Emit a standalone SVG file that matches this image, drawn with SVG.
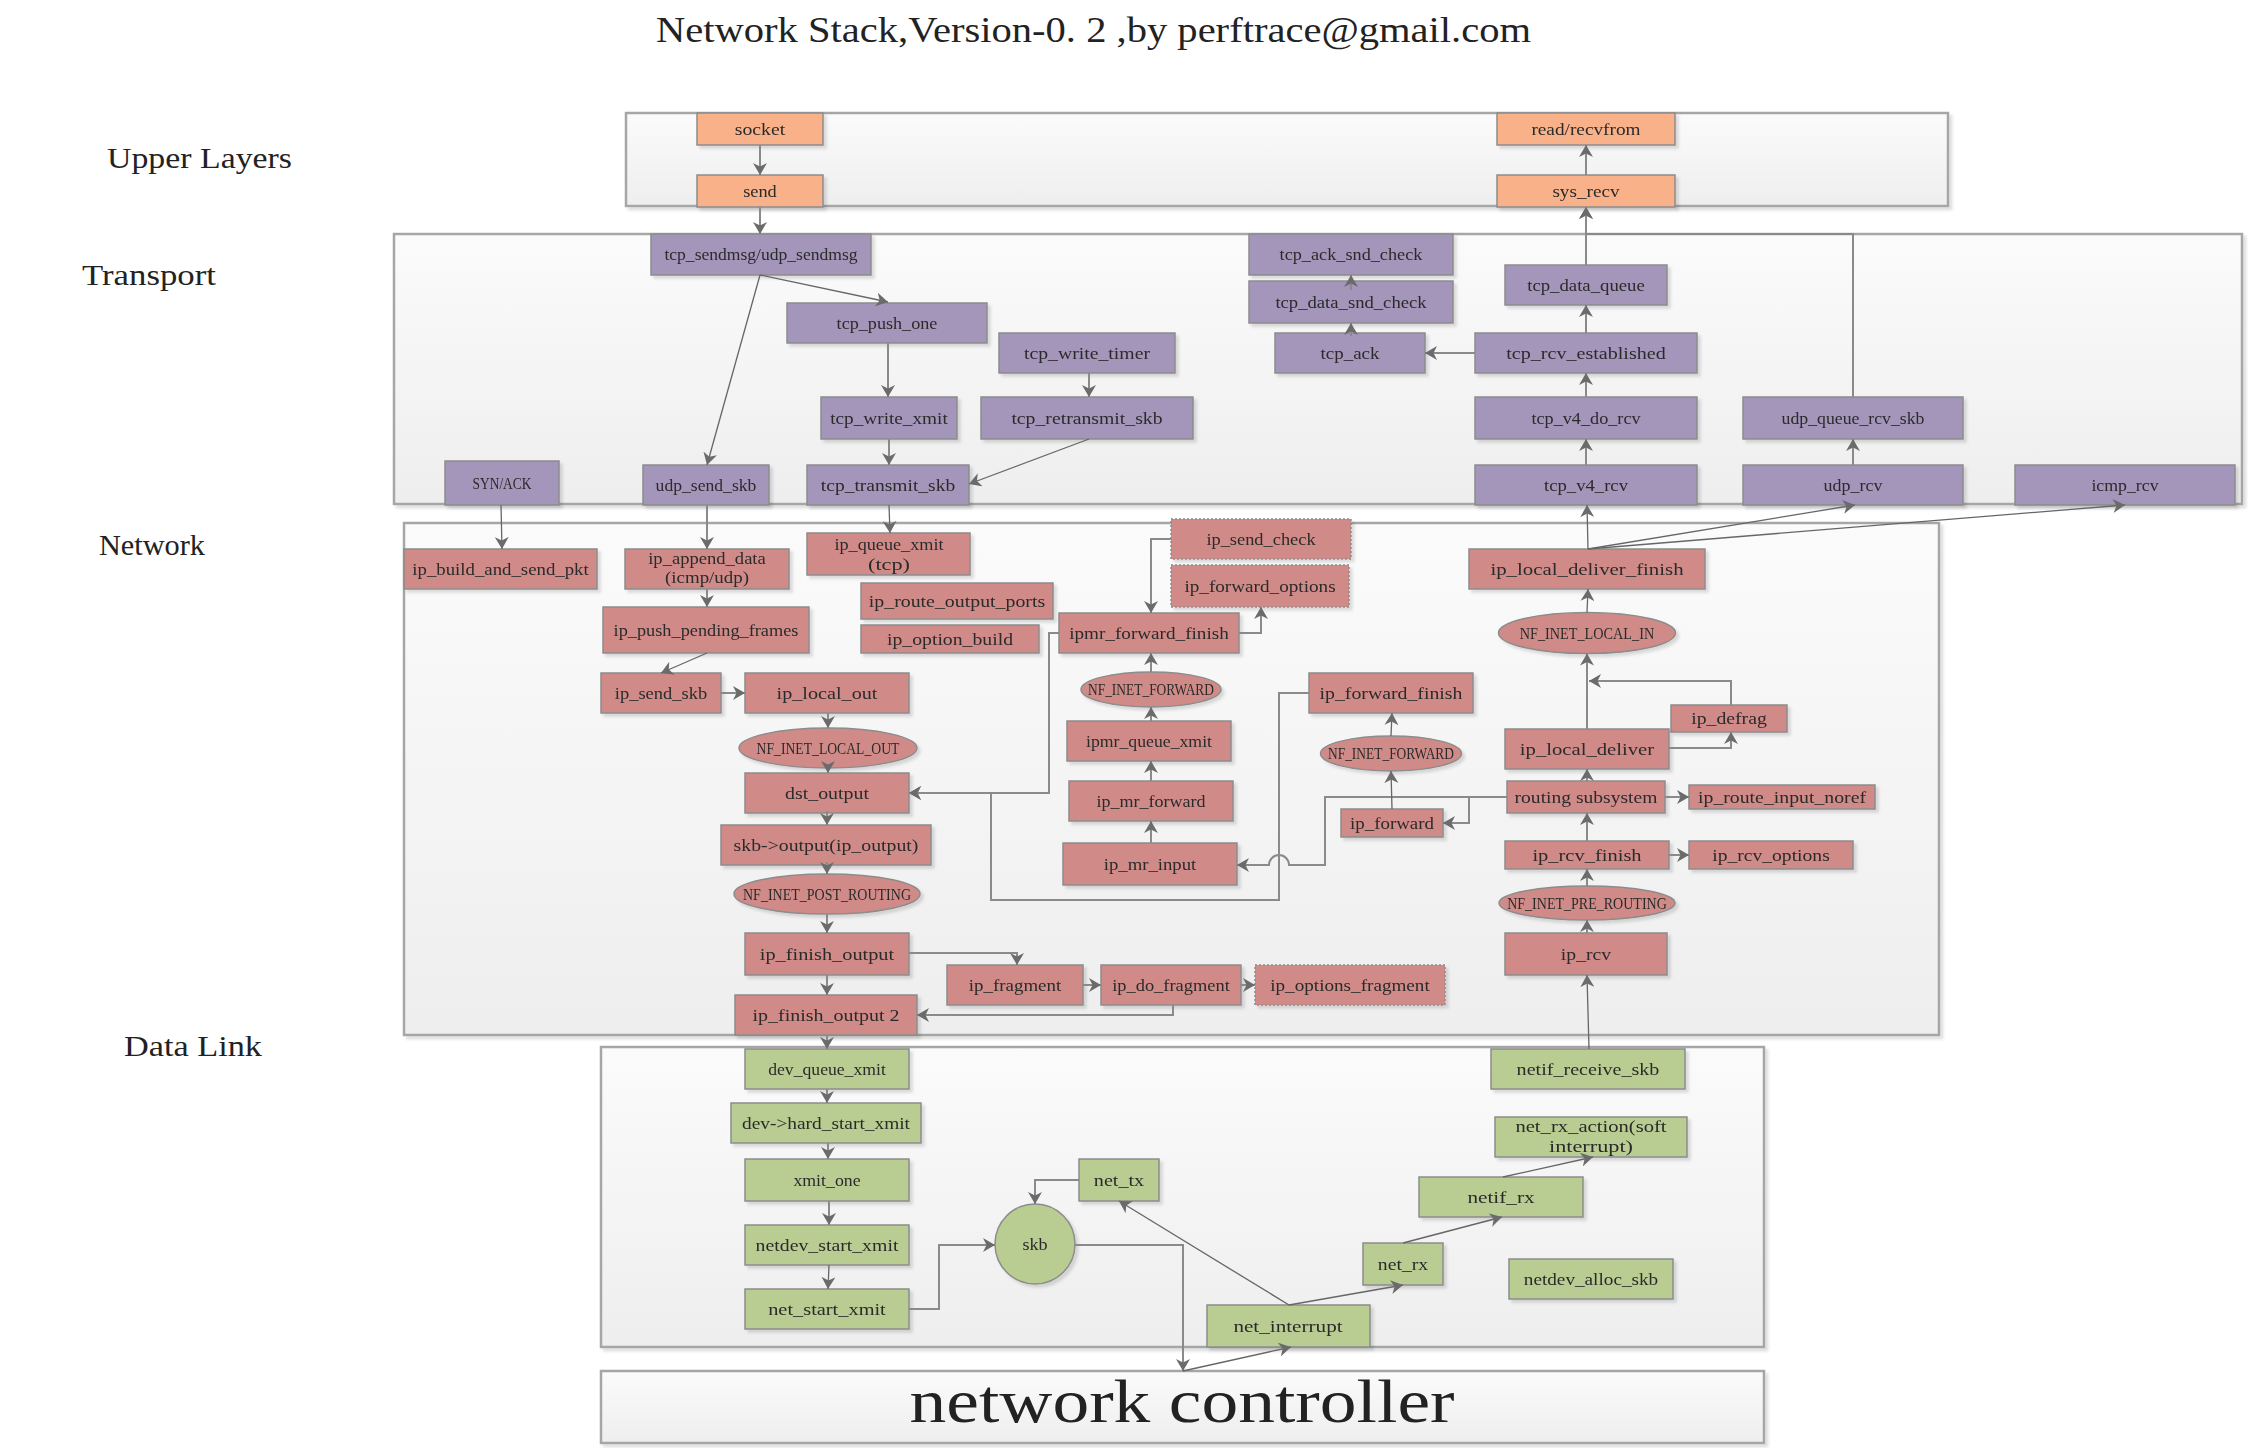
<svg xmlns="http://www.w3.org/2000/svg" width="2248" height="1448" viewBox="0 0 2248 1448">
<style>
.t{font-family:"Liberation Serif","DejaVu Serif",serif;font-size:17px;fill:#2b2b2b;text-anchor:middle}
.lay{font-family:"Liberation Serif","DejaVu Serif",serif;font-size:30px;fill:#222}
.cont{fill:url(#cg);stroke:#a6a6a6;stroke-width:2.5;filter:url(#sh)}
.o{fill:#f8b189;stroke:#8c8c8c;stroke-width:1.5}
.p{fill:#a495ba;stroke:#8c8c8c;stroke-width:1.5}
.r{fill:#d08b88;stroke:#8c8c8c;stroke-width:1.5}
.d{fill:#d08b88;stroke:#8c8c8c;stroke-width:1.5;stroke-dasharray:2 2}
.g{fill:#b9cd92;stroke:#8c8c8c;stroke-width:1.5}
.n{filter:url(#sh)}
#connectors path{fill:none;stroke:#8a8a8a;stroke-width:2;marker-end:url(#ah)}
#connectors path.dg{stroke:#666;stroke-width:1.3}
</style>
<defs>
<linearGradient id="cg" x1="0" y1="0" x2="0" y2="1">
<stop offset="0" stop-color="#fbfbfb"/>
<stop offset="1" stop-color="#eeeeee"/>
</linearGradient>
<filter id="sh" x="-5%" y="-10%" width="115%" height="140%">
<feDropShadow dx="3" dy="3" stdDeviation="1.5" flood-color="#000" flood-opacity="0.13"/>
</filter>
<marker id="ah" markerUnits="userSpaceOnUse" markerWidth="13" markerHeight="14" refX="12" refY="7" orient="auto" viewBox="0 0 13 14">
<path d="M0,0 L12,7 L0,14 L3.5,7 Z" fill="#6b6b6b"/>
</marker>
</defs>
<rect width="2248" height="1448" fill="#fff"/>

<text x="656" y="42" font-family="Liberation Serif, DejaVu Serif, serif" font-size="35" fill="#222" textLength="875" lengthAdjust="spacingAndGlyphs">Network Stack,Version-0. 2 ,by perftrace@gmail.com</text>

<g id="containers">
<rect class="cont" x="626" y="113" width="1322" height="93"/>
<rect class="cont" x="394" y="234" width="1848" height="270"/>
<rect class="cont" x="404" y="523" width="1535" height="512"/>
<rect class="cont" x="601" y="1047" width="1163" height="300"/>
<rect class="cont" x="601" y="1371" width="1163" height="72"/>
</g>

<g id="layer-labels">
<text class="lay" x="107" y="168" textLength="185" lengthAdjust="spacingAndGlyphs">Upper Layers</text>
<text class="lay" x="82" y="285" textLength="134" lengthAdjust="spacingAndGlyphs">Transport</text>
<text class="lay" x="99" y="555" textLength="106" lengthAdjust="spacingAndGlyphs">Network</text>
<text class="lay" x="124" y="1056" textLength="138" lengthAdjust="spacingAndGlyphs">Data Link</text>
</g>

<g id="network-controller">
<text x="1182" y="1422" font-family="Liberation Serif, DejaVu Serif, serif" font-size="62" fill="#222" text-anchor="middle" textLength="545" lengthAdjust="spacingAndGlyphs">network controller</text>
</g>

<!-- Upper layer nodes -->
<g id="socket" class="n"><rect class="o" x="697" y="113" width="126" height="32"/><text class="t" x="760" y="134.5" textLength="50.4" lengthAdjust="spacingAndGlyphs">socket</text></g>
<g id="send" class="n"><rect class="o" x="697" y="175" width="126" height="32"/><text class="t" x="760" y="196.5" textLength="33.6" lengthAdjust="spacingAndGlyphs">send</text></g>
<g id="read_recvfrom" class="n"><rect class="o" x="1497" y="113" width="178" height="32"/><text class="t" x="1586" y="134.5" textLength="109.2" lengthAdjust="spacingAndGlyphs">read/recvfrom</text></g>
<g id="sys_recv" class="n"><rect class="o" x="1497" y="175" width="178" height="32"/><text class="t" x="1586" y="196.5" textLength="67.2" lengthAdjust="spacingAndGlyphs">sys_recv</text></g>

<!-- Transport nodes -->
<g id="tcp_sendmsg" class="n"><rect class="p" x="651" y="234" width="220" height="41"/><text class="t" x="761" y="260" textLength="193.2" lengthAdjust="spacingAndGlyphs">tcp_sendmsg/udp_sendmsg</text></g>
<g id="tcp_push_one" class="n"><rect class="p" x="787" y="303" width="200" height="40"/><text class="t" x="887" y="328.5" textLength="100.8" lengthAdjust="spacingAndGlyphs">tcp_push_one</text></g>
<g id="tcp_write_timer" class="n"><rect class="p" x="999" y="333" width="176" height="40"/><text class="t" x="1087" y="358.5" textLength="126" lengthAdjust="spacingAndGlyphs">tcp_write_timer</text></g>
<g id="tcp_write_xmit" class="n"><rect class="p" x="821" y="397" width="136" height="42"/><text class="t" x="889" y="423.5" textLength="117.6" lengthAdjust="spacingAndGlyphs">tcp_write_xmit</text></g>
<g id="tcp_retransmit_skb" class="n"><rect class="p" x="981" y="397" width="212" height="42"/><text class="t" x="1087" y="423.5" textLength="151.2" lengthAdjust="spacingAndGlyphs">tcp_retransmit_skb</text></g>
<g id="syn_ack" class="n"><rect class="p" x="445" y="461" width="114" height="44"/><text class="t" x="502" y="488.5" textLength="58.8" lengthAdjust="spacingAndGlyphs">SYN/ACK</text></g>
<g id="udp_send_skb" class="n"><rect class="p" x="643" y="465" width="126" height="40"/><text class="t" x="706" y="490.5" textLength="100.8" lengthAdjust="spacingAndGlyphs">udp_send_skb</text></g>
<g id="tcp_transmit_skb" class="n"><rect class="p" x="807" y="465" width="162" height="40"/><text class="t" x="888" y="490.5" textLength="134.4" lengthAdjust="spacingAndGlyphs">tcp_transmit_skb</text></g>
<g id="tcp_ack_snd_check" class="n"><rect class="p" x="1249" y="234" width="204" height="41"/><text class="t" x="1351" y="260" textLength="142.8" lengthAdjust="spacingAndGlyphs">tcp_ack_snd_check</text></g>
<g id="tcp_data_snd_check" class="n"><rect class="p" x="1249" y="281" width="204" height="42"/><text class="t" x="1351" y="307.5" textLength="151.2" lengthAdjust="spacingAndGlyphs">tcp_data_snd_check</text></g>
<g id="tcp_ack" class="n"><rect class="p" x="1275" y="333" width="150" height="40"/><text class="t" x="1350" y="358.5" textLength="58.8" lengthAdjust="spacingAndGlyphs">tcp_ack</text></g>
<g id="tcp_data_queue" class="n"><rect class="p" x="1505" y="265" width="162" height="40"/><text class="t" x="1586" y="290.5" textLength="117.6" lengthAdjust="spacingAndGlyphs">tcp_data_queue</text></g>
<g id="tcp_rcv_established" class="n"><rect class="p" x="1475" y="333" width="222" height="40"/><text class="t" x="1586" y="358.5" textLength="159.6" lengthAdjust="spacingAndGlyphs">tcp_rcv_established</text></g>
<g id="tcp_v4_do_rcv" class="n"><rect class="p" x="1475" y="397" width="222" height="42"/><text class="t" x="1586" y="423.5" textLength="109.2" lengthAdjust="spacingAndGlyphs">tcp_v4_do_rcv</text></g>
<g id="tcp_v4_rcv" class="n"><rect class="p" x="1475" y="465" width="222" height="40"/><text class="t" x="1586" y="490.5" textLength="84" lengthAdjust="spacingAndGlyphs">tcp_v4_rcv</text></g>
<g id="udp_queue_rcv_skb" class="n"><rect class="p" x="1743" y="397" width="220" height="42"/><text class="t" x="1853" y="423.5" textLength="142.8" lengthAdjust="spacingAndGlyphs">udp_queue_rcv_skb</text></g>
<g id="udp_rcv" class="n"><rect class="p" x="1743" y="465" width="220" height="40"/><text class="t" x="1853" y="490.5" textLength="58.8" lengthAdjust="spacingAndGlyphs">udp_rcv</text></g>
<g id="icmp_rcv" class="n"><rect class="p" x="2015" y="465" width="220" height="40"/><text class="t" x="2125" y="490.5" textLength="67.2" lengthAdjust="spacingAndGlyphs">icmp_rcv</text></g>

<!-- Network nodes -->
<g id="ip_build_and_send_pkt" class="n"><rect class="r" x="404" y="549" width="193" height="40"/><text class="t" x="500.5" y="574.5" textLength="176.4" lengthAdjust="spacingAndGlyphs">ip_build_and_send_pkt</text></g>
<g id="ip_append_data" class="n"><rect class="r" x="625" y="549" width="164" height="40"/><text class="t" x="707" y="563.5" textLength="117.6" lengthAdjust="spacingAndGlyphs">ip_append_data</text><text class="t" x="707" y="583" textLength="84" lengthAdjust="spacingAndGlyphs">(icmp/udp)</text></g>
<g id="ip_push_pending_frames" class="n"><rect class="r" x="603" y="607" width="206" height="46"/><text class="t" x="706" y="635.5" textLength="184.8" lengthAdjust="spacingAndGlyphs">ip_push_pending_frames</text></g>
<g id="ip_send_skb" class="n"><rect class="r" x="601" y="673" width="120" height="40"/><text class="t" x="661" y="698.5" textLength="92.4" lengthAdjust="spacingAndGlyphs">ip_send_skb</text></g>
<g id="ip_local_out" class="n"><rect class="r" x="745" y="673" width="164" height="40"/><text class="t" x="827" y="698.5" textLength="100.8" lengthAdjust="spacingAndGlyphs">ip_local_out</text></g>
<g id="nf_inet_local_out" class="n"><ellipse class="r" cx="828" cy="748" rx="89" ry="20"/><text class="t" x="828" y="753.5" textLength="142.8" lengthAdjust="spacingAndGlyphs">NF_INET_LOCAL_OUT</text></g>
<g id="dst_output" class="n"><rect class="r" x="745" y="773" width="164" height="40"/><text class="t" x="827" y="798.5" textLength="84" lengthAdjust="spacingAndGlyphs">dst_output</text></g>
<g id="skb_output" class="n"><rect class="r" x="721" y="825" width="210" height="40"/><text class="t" x="826" y="850.5" textLength="184.8" lengthAdjust="spacingAndGlyphs">skb-&gt;output(ip_output)</text></g>
<g id="nf_inet_post_routing" class="n"><ellipse class="r" cx="827" cy="894" rx="93" ry="20"/><text class="t" x="827" y="899.5" textLength="168" lengthAdjust="spacingAndGlyphs">NF_INET_POST_ROUTING</text></g>
<g id="ip_finish_output" class="n"><rect class="r" x="745" y="933" width="164" height="42"/><text class="t" x="827" y="959.5" textLength="134.4" lengthAdjust="spacingAndGlyphs">ip_finish_output</text></g>
<g id="ip_finish_output2" class="n"><rect class="r" x="735" y="995" width="182" height="40"/><text class="t" x="826" y="1020.5" textLength="147" lengthAdjust="spacingAndGlyphs">ip_finish_output 2</text></g>
<g id="ip_fragment" class="n"><rect class="r" x="947" y="965" width="136" height="40"/><text class="t" x="1015" y="990.5" textLength="92.4" lengthAdjust="spacingAndGlyphs">ip_fragment</text></g>
<g id="ip_do_fragment" class="n"><rect class="r" x="1101" y="965" width="140" height="40"/><text class="t" x="1171" y="990.5" textLength="117.6" lengthAdjust="spacingAndGlyphs">ip_do_fragment</text></g>
<g id="ip_options_fragment" class="n"><rect class="d" x="1255" y="965" width="190" height="40"/><text class="t" x="1350" y="990.5" textLength="159.6" lengthAdjust="spacingAndGlyphs">ip_options_fragment</text></g>
<g id="ip_queue_xmit" class="n"><rect class="r" x="807" y="533" width="163" height="42"/><text class="t" x="889" y="549.5" textLength="109.2" lengthAdjust="spacingAndGlyphs">ip_queue_xmit</text><text class="t" x="889" y="569.5" textLength="42" lengthAdjust="spacingAndGlyphs">(tcp)</text></g>
<g id="ip_route_output_ports" class="n"><rect class="r" x="861" y="583" width="192" height="36"/><text class="t" x="957" y="606.5" textLength="176.4" lengthAdjust="spacingAndGlyphs">ip_route_output_ports</text></g>
<g id="ip_option_build" class="n"><rect class="r" x="861" y="625" width="178" height="28"/><text class="t" x="950" y="644.5" textLength="126" lengthAdjust="spacingAndGlyphs">ip_option_build</text></g>
<g id="ip_send_check" class="n"><rect class="d" x="1171" y="519" width="180" height="40"/><text class="t" x="1261" y="544.5" textLength="109.2" lengthAdjust="spacingAndGlyphs">ip_send_check</text></g>
<g id="ip_forward_options" class="n"><rect class="d" x="1171" y="565" width="178" height="42"/><text class="t" x="1260" y="591.5" textLength="151.2" lengthAdjust="spacingAndGlyphs">ip_forward_options</text></g>
<g id="ipmr_forward_finish" class="n"><rect class="r" x="1059" y="613" width="180" height="40"/><text class="t" x="1149" y="638.5" textLength="159.6" lengthAdjust="spacingAndGlyphs">ipmr_forward_finish</text></g>
<g id="nf_inet_forward_mr" class="n"><ellipse class="r" cx="1151" cy="689.5" rx="70" ry="17.5"/><text class="t" x="1151" y="695" textLength="126" lengthAdjust="spacingAndGlyphs">NF_INET_FORWARD</text></g>
<g id="ipmr_queue_xmit" class="n"><rect class="r" x="1067" y="721" width="164" height="40"/><text class="t" x="1149" y="746.5" textLength="126" lengthAdjust="spacingAndGlyphs">ipmr_queue_xmit</text></g>
<g id="ip_mr_forward" class="n"><rect class="r" x="1069" y="781" width="164" height="40"/><text class="t" x="1151" y="806.5" textLength="109.2" lengthAdjust="spacingAndGlyphs">ip_mr_forward</text></g>
<g id="ip_mr_input" class="n"><rect class="r" x="1063" y="843" width="174" height="42"/><text class="t" x="1150" y="869.5" textLength="92.4" lengthAdjust="spacingAndGlyphs">ip_mr_input</text></g>
<g id="ip_forward_finish" class="n"><rect class="r" x="1309" y="673" width="164" height="40"/><text class="t" x="1391" y="698.5" textLength="142.8" lengthAdjust="spacingAndGlyphs">ip_forward_finish</text></g>
<g id="nf_inet_forward" class="n"><ellipse class="r" cx="1391" cy="753.5" rx="70.5" ry="17.5"/><text class="t" x="1391" y="759" textLength="126" lengthAdjust="spacingAndGlyphs">NF_INET_FORWARD</text></g>
<g id="ip_forward" class="n"><rect class="r" x="1341" y="809" width="102" height="28"/><text class="t" x="1392" y="828.5" textLength="84" lengthAdjust="spacingAndGlyphs">ip_forward</text></g>
<g id="ip_local_deliver_finish" class="n"><rect class="r" x="1469" y="549" width="236" height="40"/><text class="t" x="1587" y="574.5" textLength="193.2" lengthAdjust="spacingAndGlyphs">ip_local_deliver_finish</text></g>
<g id="nf_inet_local_in" class="n"><ellipse class="r" cx="1587" cy="633" rx="88.5" ry="20.5"/><text class="t" x="1587" y="638.5" textLength="134.4" lengthAdjust="spacingAndGlyphs">NF_INET_LOCAL_IN</text></g>
<g id="ip_defrag" class="n"><rect class="r" x="1671" y="705" width="116" height="27"/><text class="t" x="1729" y="724" textLength="75.6" lengthAdjust="spacingAndGlyphs">ip_defrag</text></g>
<g id="ip_local_deliver" class="n"><rect class="r" x="1505" y="729" width="164" height="40"/><text class="t" x="1587" y="754.5" textLength="134.4" lengthAdjust="spacingAndGlyphs">ip_local_deliver</text></g>
<g id="routing_subsystem" class="n"><rect class="r" x="1507" y="781" width="158" height="32"/><text class="t" x="1586" y="802.5" textLength="142.8" lengthAdjust="spacingAndGlyphs">routing subsystem</text></g>
<g id="ip_route_input_noref" class="n"><rect class="r" x="1689" y="785" width="186" height="24"/><text class="t" x="1782" y="802.5" textLength="168" lengthAdjust="spacingAndGlyphs">ip_route_input_noref</text></g>
<g id="ip_rcv_finish" class="n"><rect class="r" x="1505" y="841" width="164" height="28"/><text class="t" x="1587" y="860.5" textLength="109.2" lengthAdjust="spacingAndGlyphs">ip_rcv_finish</text></g>
<g id="ip_rcv_options" class="n"><rect class="r" x="1689" y="841" width="164" height="28"/><text class="t" x="1771" y="860.5" textLength="117.6" lengthAdjust="spacingAndGlyphs">ip_rcv_options</text></g>
<g id="nf_inet_pre_routing" class="n"><ellipse class="r" cx="1587" cy="903" rx="88" ry="17"/><text class="t" x="1587" y="908.5" textLength="159.6" lengthAdjust="spacingAndGlyphs">NF_INET_PRE_ROUTING</text></g>
<g id="ip_rcv" class="n"><rect class="r" x="1505" y="933" width="162" height="42"/><text class="t" x="1586" y="959.5" textLength="50.4" lengthAdjust="spacingAndGlyphs">ip_rcv</text></g>

<!-- Data link nodes -->
<g id="dev_queue_xmit" class="n"><rect class="g" x="745" y="1049" width="164" height="40"/><text class="t" x="827" y="1074.5" textLength="117.6" lengthAdjust="spacingAndGlyphs">dev_queue_xmit</text></g>
<g id="dev_hard_start_xmit" class="n"><rect class="g" x="731" y="1103" width="190" height="40"/><text class="t" x="826" y="1128.5" textLength="168" lengthAdjust="spacingAndGlyphs">dev-&gt;hard_start_xmit</text></g>
<g id="xmit_one" class="n"><rect class="g" x="745" y="1159" width="164" height="42"/><text class="t" x="827" y="1185.5" textLength="67.2" lengthAdjust="spacingAndGlyphs">xmit_one</text></g>
<g id="netdev_start_xmit" class="n"><rect class="g" x="745" y="1225" width="164" height="40"/><text class="t" x="827" y="1250.5" textLength="142.8" lengthAdjust="spacingAndGlyphs">netdev_start_xmit</text></g>
<g id="net_start_xmit" class="n"><rect class="g" x="745" y="1289" width="164" height="40"/><text class="t" x="827" y="1314.5" textLength="117.6" lengthAdjust="spacingAndGlyphs">net_start_xmit</text></g>
<g id="skb" class="n"><circle class="g" cx="1035" cy="1244" r="40"/><text class="t" x="1035" y="1249.5" textLength="25.2" lengthAdjust="spacingAndGlyphs">skb</text></g>
<g id="net_tx" class="n"><rect class="g" x="1079" y="1159" width="80" height="42"/><text class="t" x="1119" y="1185.5" textLength="50.4" lengthAdjust="spacingAndGlyphs">net_tx</text></g>
<g id="net_interrupt" class="n"><rect class="g" x="1207" y="1305" width="163" height="42"/><text class="t" x="1288" y="1331.5" textLength="109.2" lengthAdjust="spacingAndGlyphs">net_interrupt</text></g>
<g id="net_rx" class="n"><rect class="g" x="1363" y="1243" width="80" height="42"/><text class="t" x="1403" y="1269.5" textLength="50.4" lengthAdjust="spacingAndGlyphs">net_rx</text></g>
<g id="netif_rx" class="n"><rect class="g" x="1419" y="1177" width="164" height="40"/><text class="t" x="1501" y="1202.5" textLength="67.2" lengthAdjust="spacingAndGlyphs">netif_rx</text></g>
<g id="net_rx_action" class="n"><rect class="g" x="1495" y="1117" width="192" height="40"/><text class="t" x="1591" y="1132" textLength="151.2" lengthAdjust="spacingAndGlyphs">net_rx_action(soft</text><text class="t" x="1591" y="1151.5" textLength="84" lengthAdjust="spacingAndGlyphs">interrupt)</text></g>
<g id="netif_receive_skb" class="n"><rect class="g" x="1491" y="1049" width="194" height="40"/><text class="t" x="1588" y="1074.5" textLength="142.8" lengthAdjust="spacingAndGlyphs">netif_receive_skb</text></g>
<g id="netdev_alloc_skb" class="n"><rect class="g" x="1509" y="1259" width="164" height="40"/><text class="t" x="1591" y="1284.5" textLength="134.4" lengthAdjust="spacingAndGlyphs">netdev_alloc_skb</text></g>

<g id="connectors">
<path d="M760,145 V175"/>
<path d="M760,207 V234"/>
<path d="M1586,175 V145"/>
<path d="M1586,265 V207"/>
<path d="M1853,397 V234 H1586 V207"/>
<path class="dg" d="M760,275 L888,302"/>
<path class="dg" d="M760,275 L707,465"/>
<path d="M888,343 V397"/>
<path d="M889,439 V465"/>
<path d="M1089,373 V397"/>
<path class="dg" d="M1089,439 L969,484"/>
<path d="M1351,290 V275"/>
<path d="M1351,336 V323"/>
<path d="M1475,353 H1425"/>
<path d="M1586,333 V305"/>
<path d="M1586,397 V373"/>
<path d="M1586,465 V439"/>
<path d="M1853,465 V439"/>
<path class="dg" d="M1588,549 L1587,505"/>
<path class="dg" d="M1588,549 L1855,505"/>
<path class="dg" d="M1588,549 L2125,505"/>
<path class="dg" d="M501,505 L502,549"/>
<path d="M707,505 V549"/>
<path class="dg" d="M889,505 L890,533"/>
<path d="M707,589 V607"/>
<path class="dg" d="M707,653 L661,673"/>
<path d="M721,693 H745"/>
<path d="M828,713 V728"/>
<path d="M828,764 V773"/>
<path d="M827,811 V825"/>
<path d="M827,862 V874"/>
<path d="M827,914 V933"/>
<path d="M909,953 H1017 V965"/>
<path d="M827,975 V995"/>
<path d="M1083,985 H1101"/>
<path d="M1241,985 H1255"/>
<path d="M1173,1005 V1015 H917"/>
<path d="M827,1035 V1049"/>
<path d="M827,1089 V1103"/>
<path d="M828,1143 V1159"/>
<path d="M829,1201 V1225"/>
<path class="dg" d="M829,1265 L828,1289"/>
<path d="M909,1309 H939 V1245 H995"/>
<path d="M1079,1180 H1035 V1204"/>
<path d="M1075,1245 H1183 V1371"/>
<path class="dg" d="M1183,1371 L1291,1347"/>
<path class="dg" d="M1289,1305 L1119,1201"/>
<path class="dg" d="M1289,1305 L1403,1285"/>
<path class="dg" d="M1403,1243 L1502,1217"/>
<path class="dg" d="M1503,1177 L1593,1157"/>
<path class="dg" d="M1589,1049 L1587,975"/>
<path d="M1587,933 V920"/>
<path d="M1587,886 V869"/>
<path d="M1669,855 H1689"/>
<path d="M1587,841 V813"/>
<path d="M1665,797 H1689"/>
<path d="M1587,781 V769"/>
<path d="M1507,797 H1469 V823 H1443"/>
<path d="M1469,797 H1325 V865 H1289 A10,10 0 0 0 1269,865 H1237"/>
<path class="dg" d="M1392,809 L1391,771"/>
<path class="dg" d="M1391,736 L1392,713"/>
<path d="M1309,693 H1279 V900 H991 V793 H909"/>
<path d="M1059,633 H1049 V793 H909"/>
<path d="M1151,843 V821"/>
<path d="M1151,781 V761"/>
<path d="M1151,721 V707"/>
<path d="M1151,672 V653"/>
<path d="M1171,539 H1151 V613"/>
<path d="M1239,633 H1261 V607"/>
<path d="M1587,729 V653.5"/>
<path d="M1731,705 V681 H1589"/>
<path d="M1669,748 H1731 V732"/>
<path class="dg" d="M1587,612.5 L1588,589"/>
</g>
</svg>
